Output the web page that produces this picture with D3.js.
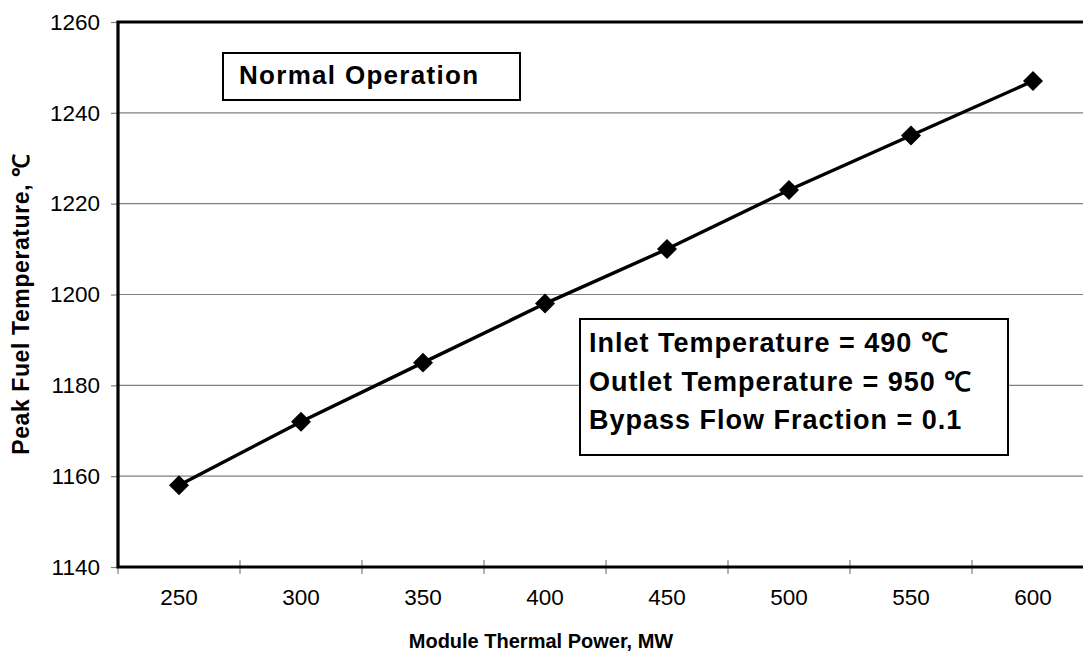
<!DOCTYPE html>
<html>
<head>
<meta charset="utf-8">
<script src="https://cdn.jsdelivr.net/npm/d3@7"></script>
<style>
  html, body { margin: 0; padding: 0; background: #fff; }
  svg { display: block; font-family: "Liberation Sans", Arial, Helvetica, sans-serif; }
</style>
</head>
<body>
<svg id="chart" width="1083" height="656"></svg>
<script>
// Module thermal power (MW) and the resulting peak fuel temperature (°C)
const powers = ["250", "300", "350", "400", "450", "500", "550", "600"];
const peakTemps = [1158, 1172, 1185, 1198, 1210, 1223, 1235, 1247];
const yTicks = [1140, 1160, 1180, 1200, 1220, 1240, 1260];
const conditionLines = [
  "Inlet Temperature = 490 \u2103",
  "Outlet Temperature = 950 \u2103",
  "Bypass Flow Fraction = 0.1"
];
const caseLabel = "Normal Operation";

const svg = d3.select("#chart");
const plot = { left: 118, top: 22, right: 1094, bottom: 567 };

const x = d3.scaleBand().domain(powers).range([plot.left, plot.right]).padding(0);
const y = d3.scaleLinear().domain([1140, 1260]).range([plot.bottom, plot.top]);

// horizontal gridlines
svg.append("g")
  .selectAll("line")
  .data(yTicks.filter(t => t > 1140 && t < 1260))
  .join("line")
  .attr("x1", plot.left).attr("x2", plot.right)
  .attr("y1", d => y(d)).attr("y2", d => y(d))
  .attr("stroke", "#808080").attr("stroke-width", 1.2);

// y axis
const yAxis = svg.append("g")
  .attr("transform", `translate(${plot.left},0)`)
  .call(d3.axisLeft(y).tickValues(yTicks).tickSize(7).tickPadding(11).tickFormat(d3.format("d")));
yAxis.select(".domain").remove();
yAxis.selectAll(".tick line").attr("stroke", "#808080").attr("stroke-width", 1.2);
yAxis.selectAll(".tick text")
  .attr("fill", "#000").attr("font-size", 22.5)
  .attr("font-family", "Liberation Sans, Arial, sans-serif");

// x axis: labels centred in each category, ticks on category boundaries
const xAxis = svg.append("g")
  .attr("transform", `translate(0,${plot.bottom})`)
  .call(d3.axisBottom(x).tickSize(0).tickPadding(22));
xAxis.select(".domain").remove();
xAxis.selectAll(".tick text")
  .attr("fill", "#000").attr("font-size", 22.5)
  .attr("font-family", "Liberation Sans, Arial, sans-serif");

const boundaries = powers.map(p => x(p)).concat([plot.right]);
svg.append("g")
  .selectAll("line")
  .data(boundaries)
  .join("line")
  .attr("x1", d => d).attr("x2", d => d)
  .attr("y1", (d, i) => i === 0 ? plot.bottom : plot.bottom - 7)
  .attr("y2", plot.bottom + 7)
  .attr("stroke", "#808080").attr("stroke-width", 1.2);

// plot frame (left, top, bottom)
svg.append("path")
  .attr("d", `M${plot.right},${plot.top}H${plot.left}V${plot.bottom}H${plot.right}`)
  .attr("fill", "none").attr("stroke", "#000").attr("stroke-width", 3.2);

// series line and diamond markers
const pts = powers.map((p, i) => [x(p) + x.bandwidth() / 2, y(peakTemps[i])]);
svg.append("path")
  .attr("d", d3.line()(pts))
  .attr("fill", "none").attr("stroke", "#000").attr("stroke-width", 3.4);

const diamond = d3.symbol().type(d3.symbolSquare).size(200);
svg.append("g")
  .selectAll("path")
  .data(pts)
  .join("path")
  .attr("d", diamond)
  .attr("transform", d => `translate(${d[0]},${d[1]}) rotate(45)`)
  .attr("fill", "#000");

// case label box
svg.append("rect")
  .attr("x", 223).attr("y", 53).attr("width", 297).attr("height", 47)
  .attr("fill", "#fff").attr("stroke", "#000").attr("stroke-width", 2);
svg.append("text")
  .attr("x", 239).attr("y", 84)
  .attr("font-size", 26).attr("font-weight", "bold")
  .attr("letter-spacing", 1.3)
  .text(caseLabel);

// operating conditions box
svg.append("rect")
  .attr("x", 580).attr("y", 319).attr("width", 428).attr("height", 136)
  .attr("fill", "#fff").attr("stroke", "#000").attr("stroke-width", 2);
svg.append("g")
  .selectAll("text")
  .data(conditionLines)
  .join("text")
  .attr("x", 589)
  .attr("y", (d, i) => 352 + i * 38.5)
  .attr("font-size", 27).attr("font-weight", "bold")
  .attr("letter-spacing", 1.0)
  .text(d => d);

// axis titles
svg.append("text")
  .attr("x", 541).attr("y", 648)
  .attr("text-anchor", "middle")
  .attr("font-size", 20).attr("font-weight", "bold")
  .text("Module Thermal Power, MW");

svg.append("text")
  .attr("transform", `translate(29,304) rotate(-90)`)
  .attr("text-anchor", "middle")
  .attr("font-size", 23).attr("font-weight", "bold")
  .attr("letter-spacing", 0.6)
  .text("Peak Fuel Temperature, \u2103");
</script>
</body>
</html>
